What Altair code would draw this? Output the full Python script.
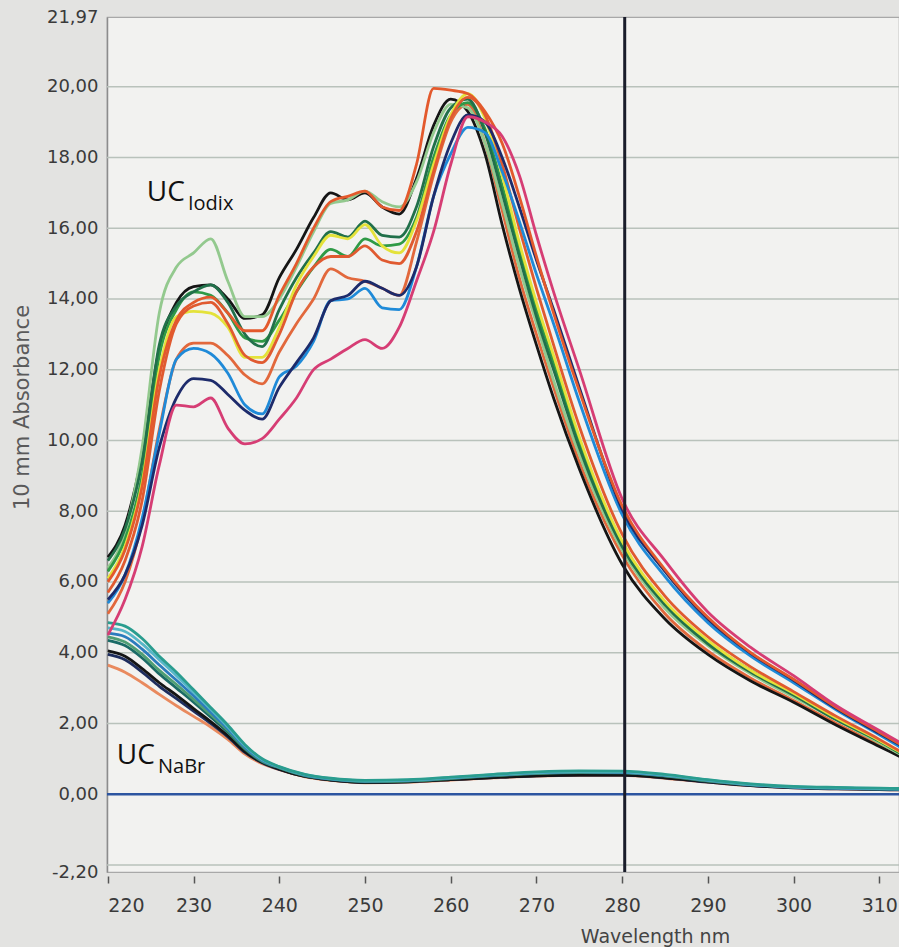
import altair as alt
import pandas as pd

# Wavelength grid (nm) of the iodixanol-fraction scans
WL_IODIX = [220, 222, 224, 226, 228, 230, 232, 234, 236, 238, 240, 242, 244, 246, 248, 250,
            252, 254, 256, 258, 260, 262, 264, 266, 268, 270, 272, 275, 280, 285, 290, 295,
            300, 305, 310, 312.5]

IODIX_BLACK = [6.7, 7.6, 9.6, 12.6, 13.9, 14.35, 14.4, 14.0, 13.45, 13.55, 14.6, 15.4, 16.3, 17.0,
               16.8, 17.0, 16.6, 16.4, 17.4, 18.9, 19.65, 19.3, 18.1, 16.1, 14.3, 12.7, 11.2, 9.2,
               6.5, 4.95, 3.95, 3.2, 2.6, 1.95, 1.35, 1.05]
IODIX_PALEGREEN = [6.4, 7.4, 9.8, 13.6, 14.9, 15.3, 15.7, 14.5, 13.5, 13.5, 14.0, 14.9, 15.9, 16.7,
                   16.8, 17.05, 16.75, 16.6, 17.3, 18.7, 19.5, 19.4, 18.4, 16.7, 14.9, 13.3, 11.7,
                   9.6, 6.9, 5.25, 4.2, 3.4, 2.75, 2.1, 1.45, 1.12]
IODIX_DARKGREEN = [6.6, 7.5, 9.4, 12.7, 13.8, 14.2, 14.4, 13.9, 13.0, 12.65, 13.7, 14.6, 15.3, 15.9,
                   15.75, 16.2, 15.8, 15.75, 16.6, 18.3, 19.4, 19.65, 18.7, 17.0, 15.2, 13.5, 12.0,
                   9.8, 7.0, 5.35, 4.25, 3.45, 2.8, 2.1, 1.5, 1.15]
IODIX_GREEN = [6.3, 7.2, 9.0, 12.4, 13.7, 14.2, 14.1, 13.6, 12.9, 12.8, 13.4, 14.2, 14.9, 15.4,
               15.2, 15.7, 15.5, 15.55, 16.3, 18.0, 19.2, 19.55, 18.8, 17.2, 15.4, 13.7, 12.2, 9.95,
               7.05, 5.4, 4.3, 3.5, 2.82, 2.12, 1.5, 1.15]
IODIX_YELLOW = [6.1, 7.0, 8.8, 12.0, 13.5, 13.65, 13.6, 13.2, 12.35, 12.35, 13.2, 14.4, 15.2, 15.8,
                15.7, 16.1, 15.5, 15.3, 16.2, 17.8, 19.2, 19.8, 19.1, 17.5, 15.6, 13.9, 12.4, 10.1,
                7.15, 5.45, 4.35, 3.5, 2.85, 2.15, 1.52, 1.18]
IODIX_ORANGE_A = [6.0, 6.9, 8.7, 11.8, 13.4, 13.9, 14.05, 13.6, 13.1, 13.1, 14.1, 15.0, 16.0, 16.75,
                  16.9, 17.05, 16.6, 16.5, 17.8, 19.95, 19.9, 19.8, 19.3, 18.4, 16.9, 15.2, 13.6,
                  11.4, 8.15, 6.35, 5.0, 4.0, 3.25, 2.45, 1.75, 1.4]
IODIX_ORANGE_B = [5.7, 6.6, 8.3, 11.4, 13.3, 13.8, 13.9, 13.3, 12.4, 12.2, 13.0, 14.2, 14.9, 15.2,
                  15.2, 15.5, 15.1, 15.0, 15.9, 17.6, 19.1, 19.7, 19.2, 17.8, 16.0, 14.3, 12.7,
                  10.4, 7.35, 5.6, 4.45, 3.6, 2.9, 2.2, 1.55, 1.2]
IODIX_ORANGE_C = [5.1, 6.0, 7.7, 10.3, 12.3, 12.75, 12.75, 12.4, 11.85, 11.6, 12.5, 13.3, 14.0,
                  14.85, 14.6, 14.5, 14.3, 14.1, 15.6, 17.5, 19.0, 19.5, 18.4, 16.5, 14.6, 13.0,
                  11.5, 9.4, 6.75, 5.1, 4.05, 3.28, 2.65, 2.0, 1.4, 1.08]
IODIX_BLUE = [5.4, 6.2, 7.8, 10.2, 12.3, 12.6, 12.45, 11.9, 11.0, 10.75, 11.8, 12.1, 12.8, 13.95,
              14.0, 14.3, 13.75, 13.7, 14.9, 16.9, 18.1, 18.85, 18.7, 17.6, 16.2, 14.7, 13.3, 11.1,
              7.9, 6.15, 4.85, 3.9, 3.15, 2.38, 1.68, 1.32]
IODIX_NAVY = [5.5, 6.2, 7.6, 9.8, 11.2, 11.75, 11.7, 11.3, 10.85, 10.6, 11.5, 12.2, 12.9, 13.95,
              14.1, 14.5, 14.3, 14.1, 14.9, 16.9, 18.4, 19.2, 19.0, 18.0, 16.6, 15.1, 13.7, 11.5,
              8.05, 6.3, 4.95, 3.98, 3.22, 2.42, 1.72, 1.38]
IODIX_CRIMSON = [4.5, 5.5, 7.0, 9.3, 11.0, 10.95, 11.2, 10.35, 9.9, 10.05, 10.6, 11.2, 12.0, 12.3,
                 12.6, 12.85, 12.6, 13.2, 14.5, 15.9, 17.8, 19.15, 19.0, 18.6, 17.5, 15.8, 14.2,
                 12.0, 8.35, 6.6, 5.15, 4.15, 3.35, 2.5, 1.8, 1.45]

# Wavelength grid (nm) of the NaBr-fraction scans
WL_NABR = [220, 222, 224, 226, 228, 230, 232, 234, 236, 238, 240, 243, 246, 250, 255, 260, 265,
           270, 275, 280, 285, 290, 295, 300, 305, 310, 312.5]

NABR_TEAL = [4.85, 4.75, 4.4, 3.9, 3.45, 2.95, 2.45, 1.95, 1.4, 1.0, 0.78, 0.56, 0.45, 0.39, 0.41,
             0.48, 0.56, 0.63, 0.66, 0.65, 0.56, 0.41, 0.29, 0.22, 0.19, 0.17, 0.16]
NABR_CYAN = [4.7, 4.6, 4.25, 3.8, 3.35, 2.88, 2.4, 1.9, 1.37, 0.98, 0.77, 0.55, 0.44, 0.38, 0.4,
             0.47, 0.55, 0.61, 0.64, 0.63, 0.54, 0.4, 0.28, 0.21, 0.18, 0.16, 0.15]
NABR_BLUE = [4.55, 4.45, 4.1, 3.65, 3.22, 2.78, 2.32, 1.85, 1.33, 0.96, 0.76, 0.54, 0.43, 0.37,
             0.39, 0.46, 0.54, 0.6, 0.63, 0.62, 0.53, 0.39, 0.27, 0.2, 0.17, 0.15, 0.14]
NABR_GREEN = [4.45, 4.3, 3.95, 3.5, 3.1, 2.68, 2.25, 1.8, 1.3, 0.94, 0.75, 0.53, 0.43, 0.36, 0.38,
              0.45, 0.53, 0.59, 0.62, 0.61, 0.52, 0.38, 0.27, 0.2, 0.17, 0.15, 0.14]
NABR_DARKTEAL = [4.35, 4.2, 3.85, 3.4, 3.0, 2.6, 2.18, 1.75, 1.27, 0.92, 0.74, 0.52, 0.42, 0.35,
                 0.37, 0.44, 0.52, 0.58, 0.61, 0.6, 0.51, 0.37, 0.26, 0.2, 0.17, 0.15, 0.14]
NABR_BLACK = [4.05, 3.9, 3.55, 3.15, 2.8, 2.42, 2.05, 1.65, 1.2, 0.9, 0.71, 0.5, 0.4, 0.33, 0.35,
              0.41, 0.47, 0.52, 0.54, 0.54, 0.46, 0.35, 0.25, 0.19, 0.16, 0.14, 0.13]
NABR_NAVY = [3.95, 3.8, 3.45, 3.05, 2.7, 2.35, 2.0, 1.62, 1.18, 0.89, 0.7, 0.5, 0.4, 0.33, 0.35,
             0.41, 0.47, 0.52, 0.54, 0.54, 0.46, 0.34, 0.24, 0.18, 0.15, 0.13, 0.12]
NABR_ORANGE = [3.65, 3.45, 3.15, 2.82, 2.5, 2.2, 1.9, 1.55, 1.13, 0.86, 0.69, 0.49, 0.39, 0.32,
               0.34, 0.4, 0.46, 0.51, 0.53, 0.53, 0.45, 0.34, 0.24, 0.18, 0.15, 0.13, 0.12]

# Axis ticks, grid levels, baseline and cursor position
Y_TICKS = [-2.2, 0, 2, 4, 6, 8, 10, 12, 14, 16, 18, 20, 21.97]
X_TICKS = [220, 230, 240, 250, 260, 270, 280, 290, 300, 310]
GRID_LEVELS = [-2, 0, 2, 4, 6, 8, 10, 12, 14, 16, 18, 20]
BASELINE = [0.0]
CURSOR_NM = [280.3]

iodix_series = [
    ("i_orange_c", IODIX_ORANGE_C, "#e2683c"),
    ("i_black", IODIX_BLACK, "#151515"),
    ("i_palegreen", IODIX_PALEGREEN, "#93c98e"),
    ("i_green", IODIX_GREEN, "#2f9a46"),
    ("i_darkgreen", IODIX_DARKGREEN, "#21704a"),
    ("i_yellow", IODIX_YELLOW, "#e4e23a"),
    ("i_orange_b", IODIX_ORANGE_B, "#e05a30"),
    ("i_blue", IODIX_BLUE, "#1f8ad8"),
    ("i_navy", IODIX_NAVY, "#1d2b6b"),
    ("i_orange_a", IODIX_ORANGE_A, "#e3592c"),
    ("i_crimson", IODIX_CRIMSON, "#d63d74"),
]
nabr_series = [
    ("n_orange", NABR_ORANGE, "#e98a5e"),
    ("n_navy", NABR_NAVY, "#1e2d5e"),
    ("n_black", NABR_BLACK, "#151515"),
    ("n_darkteal", NABR_DARKTEAL, "#1b6b66"),
    ("n_green", NABR_GREEN, "#4f9e74"),
    ("n_blue", NABR_BLUE, "#2b7bbd"),
    ("n_cyan", NABR_CYAN, "#56b6c8"),
    ("n_teal", NABR_TEAL, "#2a9d8f"),
]


def long_table(grid, series):
    rows = []
    for order, (name, values, _) in enumerate(series):
        for nm, a in zip(grid, values):
            rows.append({"series": name, "ord": order, "nm": nm, "abs": a})
    return pd.DataFrame(rows)


spectra = pd.concat([long_table(WL_NABR, nabr_series), long_table(WL_IODIX, iodix_series)],
                    ignore_index=True)
all_series = nabr_series + iodix_series
color_scale = alt.Scale(domain=[s[0] for s in all_series], range=[s[2] for s in all_series])

x_scale = alt.Scale(domain=[219.9, 312.3], nice=False, zero=False)
y_scale = alt.Scale(domain=[-2.2, 21.97], nice=False, zero=False)

FONT = "DejaVu Sans"

x_axis = alt.Axis(
    values=X_TICKS, format="d", offset=4, domain=False, grid=False,
    tickSize=7, tickColor="#555555", tickWidth=1.5, labelPadding=13,
    labelFont=FONT, labelFontSize=19, labelColor="#3a3a3a", labelOverlap=False,
    title="Wavelength nm", titleFont=FONT, titleFontSize=19, titleFontWeight="normal",
    titleColor="#444444", titleX=548, titleY=60, titleBaseline="middle", titleAlign="center",
)
# decimal comma and a plain hyphen for the negative bottom label
y_axis = alt.Axis(
    values=Y_TICKS,
    labelExpr="replace(replace(format(datum.value, '.2f'), '.', ','), '\u2212', '-')",
    grid=False, ticks=False, domain=True, domainColor="#8c8c8c", domainWidth=1.5,
    labelFont=FONT, labelFontSize=18, labelColor="#3a3a3a", labelPadding=9,
    labelOverlap=False, labelBound=False, labelFlush=False,
    title="10 mm Absorbance", titleFont=FONT, titleFontSize=21, titleFontWeight="normal",
    titleColor="#5a5a5a", titleX=-85, titleY=390, titleAngle=270,
    titleBaseline="middle", titleAlign="center",
)

# every layer carries the same axis definitions so the shared axes merge cleanly
X_ENC = dict(scale=x_scale, axis=x_axis)
Y_ENC = dict(scale=y_scale, axis=y_axis)

grid = alt.Chart(pd.DataFrame({"level": GRID_LEVELS})).mark_rule(
    color="#b9c2bb", strokeWidth=1.5
).encode(y=alt.Y("level:Q", **Y_ENC))

baseline = alt.Chart(pd.DataFrame({"level": BASELINE})).mark_rule(
    color="#2d55a0", strokeWidth=2.4
).encode(y=alt.Y("level:Q", **Y_ENC))

lines = alt.Chart(spectra).mark_line(strokeWidth=2.8, interpolate="monotone", clip=True).encode(
    x=alt.X("nm:Q", **X_ENC),
    y=alt.Y("abs:Q", **Y_ENC),
    color=alt.Color("series:N", scale=color_scale, legend=None),
    order=alt.Order("ord:Q"),
)

cursor = alt.Chart(pd.DataFrame({"nm": CURSOR_NM})).mark_rule(
    color="#1a1d2a", strokeWidth=3
).encode(x=alt.X("nm:Q", **X_ENC))

labels_main = pd.DataFrame({
    "text": ["UC", "UC"],
    "nm": [224.55, 221.05],
    "abs": [16.77, 0.85],
})
labels_sub = pd.DataFrame({
    "text": ["Iodix", "NaBr"],
    "nm": [229.35, 225.85],
    "abs": [16.52, 0.6],
})

main_text = alt.Chart(labels_main).mark_text(
    font="Open Sans", fontSize=28, color="#111111", align="left", baseline="alphabetic"
).encode(x=alt.X("nm:Q", **X_ENC), y=alt.Y("abs:Q", **Y_ENC), text="text:N")
sub_text = alt.Chart(labels_sub).mark_text(
    font="Open Sans", fontSize=20, color="#111111", align="left", baseline="alphabetic"
).encode(x=alt.X("nm:Q", **X_ENC), y=alt.Y("abs:Q", **Y_ENC), text="text:N")

chart = alt.layer(grid, baseline, lines, cursor, main_text, sub_text).properties(
    width=792, height=855,
    padding={"left": 107, "top": 17, "right": 0, "bottom": 75},
    autosize=alt.AutoSizeParams(type="none"),
    background="#e3e3e1",
).configure_view(fill="#f2f2f0", stroke="#a8a8a8", strokeWidth=1.2)

chart.save("out.html", embed_options={"renderer": "svg", "actions": False})
